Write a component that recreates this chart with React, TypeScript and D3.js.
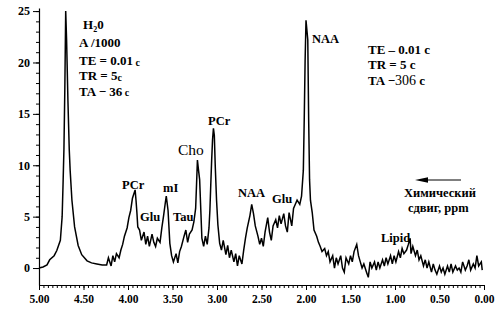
import React, { useEffect, useRef } from 'react';
import * as d3 from 'd3';

// chemical shift (ppm) and signal amplitude
const ppm = [
  5.00, 4.955, 4.91, 4.88, 4.83, 4.80, 4.76, 4.74, 4.73, 4.72, 4.71, 4.70, 4.69, 4.675, 4.66, 4.65,
  4.63, 4.60, 4.56, 4.52, 4.46, 4.41, 4.35, 4.29, 4.24, 4.22, 4.19, 4.17, 4.15, 4.13, 4.10, 4.08,
  4.06, 4.04, 4.01, 3.99, 3.97, 3.95, 3.92, 3.91, 3.90, 3.89, 3.87, 3.85, 3.82, 3.80, 3.78, 3.76,
  3.73, 3.71, 3.69, 3.67, 3.64, 3.62, 3.60, 3.58, 3.57, 3.55, 3.53, 3.51, 3.49, 3.46, 3.44, 3.42,
  3.40, 3.37, 3.35, 3.33, 3.31, 3.28, 3.26, 3.24, 3.23, 3.22, 3.21, 3.195, 3.18, 3.17, 3.15, 3.13,
  3.11, 3.09, 3.08, 3.07, 3.06, 3.05, 3.04, 3.03, 3.02, 3.005, 2.99, 2.97, 2.95, 2.93, 2.90, 2.88,
  2.86, 2.84, 2.81, 2.79, 2.77, 2.75, 2.72, 2.70, 2.68, 2.66, 2.63, 2.61, 2.59, 2.57, 2.54, 2.52,
  2.50, 2.48, 2.46, 2.43, 2.41, 2.39, 2.37, 2.34, 2.32, 2.30, 2.28, 2.25, 2.23, 2.21, 2.19, 2.16,
  2.14, 2.12, 2.10, 2.07, 2.05, 2.03, 2.02, 2.01, 2.00, 1.98, 1.97, 1.96, 1.95, 1.93, 1.91, 1.88,
  1.86, 1.84, 1.82, 1.79, 1.77, 1.75, 1.73, 1.70, 1.68, 1.66, 1.64, 1.61, 1.59, 1.57, 1.55, 1.52,
  1.50, 1.48, 1.46, 1.43, 1.41, 1.39, 1.37, 1.35, 1.32, 1.30, 1.28, 1.26, 1.23, 1.21, 1.19, 1.17,
  1.14, 1.12, 1.10, 1.08, 1.05, 1.03, 1.01, 0.99, 0.96, 0.94, 0.92, 0.90, 0.87, 0.85, 0.83, 0.82,
  0.80, 0.77, 0.75, 0.73, 0.71, 0.68, 0.66, 0.64, 0.62, 0.59, 0.57, 0.55, 0.53, 0.50, 0.48, 0.46,
  0.44, 0.41, 0.39, 0.37, 0.35, 0.32, 0.30, 0.28, 0.26, 0.24, 0.21, 0.19, 0.17, 0.15, 0.12, 0.10,
  0.08, 0.06, 0.03, 0.02,
];
const amplitude = [
  0.0, 0.1, 0.3, 0.8, 1.2, 1.7, 2.7, 5.0, 8.1, 11.5, 17.3, 25.0, 22.2, 16.3, 11.5, 9.5,
  6.6, 4.0, 2.2, 1.3, 0.7, 0.5, 0.4, 0.3, 0.3, 1.0, 0.2, 1.2, 0.6, 1.4, 1.0, 1.75,
  2.3, 3.1, 3.9, 4.9, 5.6, 6.8, 7.6, 6.6, 5.4, 4.0, 3.7, 2.7, 3.5, 2.3, 3.1, 2.1,
  3.3, 2.5, 2.1, 2.9, 2.5, 3.9, 5.1, 6.4, 7.0, 5.6, 2.4, 1.2, 0.6, 1.4, 0.5, 1.6,
  2.1, 3.1, 3.7, 2.5, 3.3, 3.7, 4.5, 5.8, 8.1, 10.5, 9.7, 8.6, 5.2, 2.9, 2.1, 3.1,
  2.3, 3.9, 5.6, 8.1, 10.5, 12.5, 13.6, 12.9, 10.0, 6.6, 4.2, 2.4, 1.75, 2.7, 1.3, 2.2,
  1.0, 1.75, 0.6, 1.4, 0.2, 1.2, 0.4, 1.75, 2.9, 3.9, 5.1, 6.2, 5.3, 4.1, 3.1, 2.3,
  2.9, 2.1, 3.5, 4.9, 3.5, 2.7, 4.1, 4.7, 3.9, 5.1, 4.3, 5.3, 4.1, 3.5, 5.4, 4.1,
  5.8, 6.2, 6.6, 6.2, 7.0, 9.5, 14.4, 20.2, 24.1, 22.2, 14.4, 8.6, 6.6, 5.4, 3.7, 3.1,
  2.5, 2.1, 1.6, 1.9, 1.2, 1.6, 0.6, 1.2, 0.0, 1.0, 0.4, 1.2, 0.0, -0.4, 1.0, 0.4,
  1.2, 0.6, 1.6, 2.3, 1.2, 0.6, 0.0, 0.4, -0.4, -0.9, 0.6, 0.0, 0.6, -0.2, 0.6, 0.0,
  0.8, 0.2, 1.0, 0.4, 1.2, 0.4, 1.2, 0.6, 1.6, 1.0, 1.9, 1.4, 1.75, 2.3, 2.9, 1.4,
  2.1, 1.2, 1.75, 0.8, 1.2, 0.2, 0.8, 0.0, 0.6, -0.4, 0.4, -0.2, -0.6, 0.2, -0.4, 0.0,
  -0.6, 0.2, -0.4, 0.4, -0.4, 0.2, -0.2, 0.0, -0.4, 0.6, -0.2, 0.2, 0.8, -0.2, 0.4, 0.0,
  1.2, 0.2, 0.6, -0.2,
];

const xTicks = [5.0, 4.5, 4.0, 3.5, 3.0, 2.5, 2.0, 1.5, 1.0, 0.5, 0.0];
const yTicks = [0, 5, 10, 15, 20, 25];

const FONT = '"Liberation Serif", "Times New Roman", serif';

const Spectrum = () => {
  const ref = useRef<SVGGElement>(null);

  useEffect(() => {
    const g = d3.select(ref.current);

    const x = d3.scaleLinear().domain([5, 0]).range([39, 484]);
    const y = d3.scaleLinear().domain([-1.65, 25.3]).range([285, 8]);

    // minor ticks
    const xMinor = g.append('g')
      .attr('transform', 'translate(0,285)')
      .call(d3.axisBottom(x).tickValues(d3.range(0, 101).map(i => i * 0.05)).tickSize(3).tickSizeOuter(0).tickFormat(() => ''));
    xMinor.select('.domain').remove();

    const yMinor = g.append('g')
      .attr('transform', 'translate(39,0)')
      .call(d3.axisLeft(y).tickValues(d3.range(0, 26)).tickSize(3).tickSizeOuter(0).tickFormat(() => ''));
    yMinor.select('.domain').remove();

    // major ticks with labels
    const xAxisG = g.append('g')
      .attr('transform', 'translate(0,285)')
      .call(d3.axisBottom(x).tickValues(xTicks).tickSize(5).tickSizeOuter(0).tickPadding(4.5).tickFormat(d3.format('.2f')));

    const yAxisG = g.append('g')
      .attr('transform', 'translate(39,0)')
      .call(d3.axisLeft(y).tickValues(yTicks).tickSize(6).tickSizeOuter(0).tickPadding(3).tickFormat(d3.format('d')));

    [xAxisG, yAxisG, xMinor, yMinor].forEach(a => {
      a.selectAll('line').style('stroke', '#000').style('stroke-width', 1);
      a.select('.domain').style('stroke', '#000').style('stroke-width', 1.2);
      a.selectAll('text')
        .style('fill', '#000')
        .style('font-family', FONT)
        .style('font-weight', 'bold');
    });
    xAxisG.selectAll('text').style('font-size', '11.5px');
    yAxisG.selectAll('text').style('font-size', '12px');

    const line = d3.line<number>()
      .x((d, i) => x(ppm[i]))
      .y(d => y(d));

    g.append('path')
      .datum(amplitude)
      .attr('fill', 'none')
      .attr('stroke', '#000')
      .attr('stroke-width', 1.5)
      .attr('stroke-linejoin', 'miter')
      .attr('d', line);

    return () => {
      g.selectAll('*').remove();
    };
  }, []);

  const bold = { fontFamily: FONT, fontWeight: 'bold' as const, fontSize: 13, fill: '#000' };
  const peak = { fontFamily: FONT, fontWeight: 'bold' as const, fontSize: 12.5, fill: '#000' };

  return (
    <svg width={502} height={320} style={{ position: 'absolute', left: 0, top: 0, background: '#fff' }}>
      <g ref={ref} />

      {/* left parameter block */}
      <text x={83} y={29} style={bold}>H<tspan fontSize={8} dy={3}>2</tspan><tspan dy={-3}>0</tspan></text>
      <text x={79} y={47} style={bold}>A /1000</text>
      <text x={79} y={65} style={bold}>TE = 0.01<tspan fontSize={10} dy={1}> c</tspan></text>
      <text x={79} y={80} style={bold}>TR = 5<tspan fontSize={10} dy={1}>c</tspan></text>
      <text x={79} y={96} style={bold}>TA − 36<tspan fontSize={10}> c</tspan></text>

      {/* right parameter block */}
      <text x={368} y={54} style={bold}>TE – 0.01 c</text>
      <text x={368} y={69} style={bold}>TR = 5 c</text>
      <text x={368} y={85} style={bold}>TA −<tspan fontWeight="normal" fontSize={14}>306</tspan> c</text>

      {/* peak labels */}
      <text x={312} y={43} style={peak}>NAA</text>
      <text x={208} y={125} style={peak}>PCr</text>
      <text x={178} y={155} style={{ ...peak, fontWeight: 'normal', fontSize: 15.5 }}>Cho</text>
      <text x={122} y={189} style={peak}>PCr</text>
      <text x={163} y={192} style={peak}>mI</text>
      <text x={140} y={221} style={peak}>Glu</text>
      <text x={173} y={221} style={peak}>Tau</text>
      <text x={238} y={197} style={peak}>NAA</text>
      <text x={272} y={203} style={peak}>Glu</text>
      <text x={381} y={242} style={peak}>Lipid</text>

      {/* axis caption with arrow */}
      <path d="M415,180 L428,177.3 L428,182.7 Z" fill="#000" />
      <line x1={426} y1={180} x2={461} y2={180} stroke="#000" strokeWidth={1} />
      <text x={404} y={197} style={{ ...peak, fontSize: 12.5 }}>Химический</text>
      <text x={408} y={212} style={{ ...peak, fontSize: 12.5 }}>сдвиг, ppm</text>
    </svg>
  );
};

export default function App() {
  return <Spectrum />;
}
